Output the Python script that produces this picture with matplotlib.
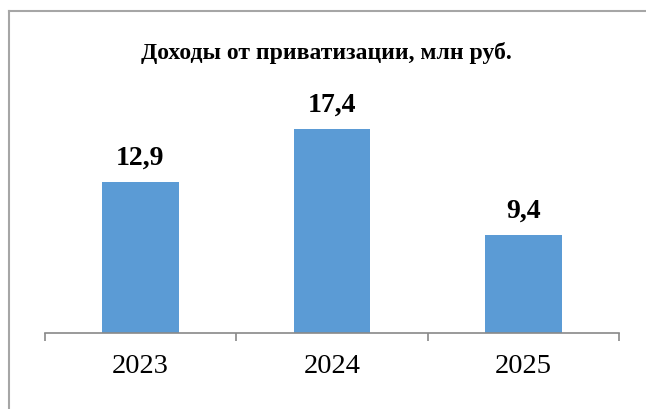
import matplotlib
matplotlib.use('Agg')
import matplotlib.pyplot as plt
from matplotlib.lines import Line2D

years = ['2023', '2024', '2025']
# bar heights as drawn in the picture
bar_heights = [12.9, 17.4, 8.4]
# labels as printed above the bars
bar_labels = ['12,9', '17,4', '9,4']

title = 'Доходы от приватизации, млн руб.'
bar_color = '#5B9BD5'
axis_color = '#898989'

plt.rcParams['font.family'] = ['Liberation Serif', 'DejaVu Serif']

fig = plt.figure(figsize=(6.46, 4.09), dpi=100)
ax = fig.add_axes([44.7 / 646, 75.7 / 409, 574.3 / 646, 234.4 / 409])

x = list(range(len(years)))
bars = ax.bar(x, bar_heights, width=0.4, color=bar_color, zorder=2)

for xi, h, lab in zip(x, bar_heights, bar_labels):
    ax.annotate(lab, (xi, h), xytext=(0, 12.5), textcoords='offset points',
                ha='center', va='baseline', fontsize=20, fontweight='bold')

ax.set_xlim(-0.5, 2.5)
ax.set_ylim(0, 20)
ax.set_yticks([])
for side in ['top', 'right', 'left']:
    ax.spines[side].set_visible(False)
ax.spines['bottom'].set_color(axis_color)
ax.spines['bottom'].set_linewidth(1.2)

ax.set_xticks(x)
ax.set_xticklabels(years, fontsize=20.5)
ax.tick_params(axis='x', which='major', length=0, pad=15)
ax.set_xticks([-0.5, 0.5, 1.5, 2.5], minor=True)
ax.tick_params(axis='x', which='minor', length=6, width=1.2, color=axis_color)

fig.text(326 / 646, 1 - 59 / 409, title, ha='center', va='baseline',
         fontsize=17, fontweight='bold')

# chart border (cropped on the right and bottom)
fig.add_artist(Line2D([9 / 646, 9 / 646], [0, 1 - 11 / 409], transform=fig.transFigure,
                      color='#A6A6A6', linewidth=1.5))
fig.add_artist(Line2D([9 / 646, 1], [1 - 11 / 409, 1 - 11 / 409], transform=fig.transFigure,
                      color='#A6A6A6', linewidth=1.5))

fig.savefig('out.png', dpi=100)
plt.close(fig)
